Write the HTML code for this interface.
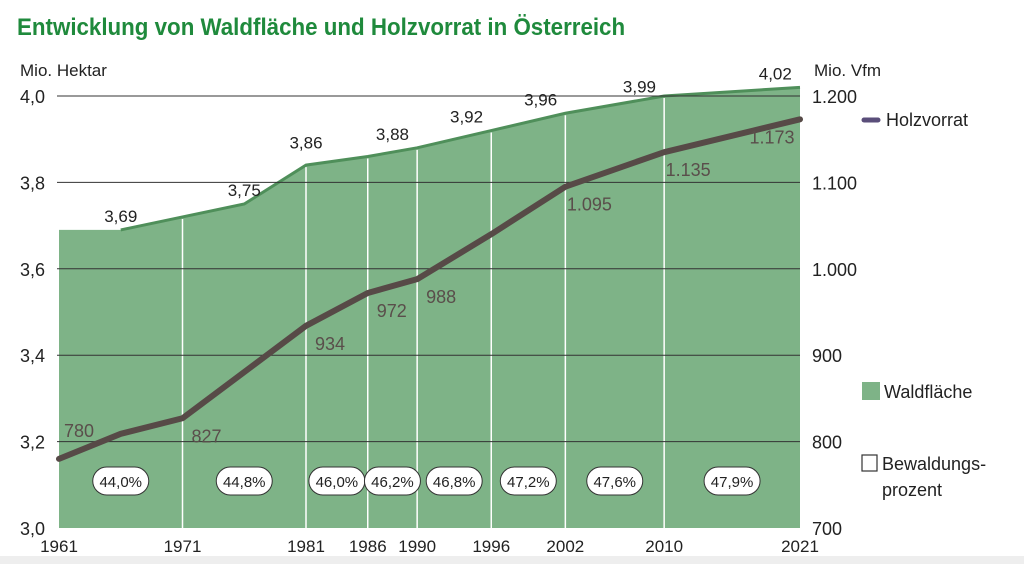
<!DOCTYPE html>
<html><head><meta charset="utf-8">
<style>
html,body{margin:0;padding:0;background:#fff;}
body{width:1024px;height:564px;overflow:hidden;position:relative;font-family:"Liberation Sans",sans-serif;}
#title{position:absolute;left:17px;top:14px;font-size:24px;font-weight:bold;color:#1f8a3c;letter-spacing:0px;transform:scaleX(0.93);transform-origin:left;}
#band{position:absolute;left:0;top:556px;width:1024px;height:8px;background:#eeeeee;}
svg{position:absolute;left:0;top:0;}
text{font-family:"Liberation Sans",sans-serif;}
</style></head>
<body>
<div id="title">Entwicklung von Waldfläche und Holzvorrat in Österreich</div>
<div id="band"></div>
<svg id="chart" width="1024" height="564"></svg>
<script>
const areaYears = [1961, 1966, 1971, 1976, 1981, 1986, 1990, 1996, 2002, 2010, 2021];
const areaValues = [3.69, 3.69, 3.72, 3.75, 3.84, 3.86, 3.88, 3.92, 3.96, 4.00, 4.02];
const areaLabels = [[1966, 3.69, "3,69"], [1976, 3.75, "3,75"], [1981, 3.86, "3,86"], [1988, 3.88, "3,88"], [1994, 3.92, "3,92"], [2000, 3.96, "3,96"], [2008, 3.99, "3,99"], [2019, 4.02, "4,02"]];
const stockYears = [1961, 1966, 1971, 1981, 1986, 1990, 1996, 2002, 2010, 2021];
const stockValues = [780, 809, 827, 934, 972, 988, 1040, 1095, 1135, 1173];
const stockLabels = [[1961, 780, "780"], [1971, 827, "827"], [1981, 934, "934"], [1986, 972, "972"], [1990, 988, "988"], [2002, 1095, "1.095"], [2010, 1135, "1.135"], [2021, 1173, "1.173"]];
const tickYears = [1961, 1971, 1981, 1986, 1990, 1996, 2002, 2010, 2021];
const percentLabels = ["44,0%", "44,8%", "46,0%", "46,2%", "46,8%", "47,2%", "47,6%", "47,9%"];
const leftTicks = [3.0, 3.2, 3.4, 3.6, 3.8, 4.0];
const rightTicks = [700, 800, 900, 1000, 1100, 1200];

const X0 = 59, X1 = 800, Y0 = 528, Y1 = 96;
const x = yr => X0 + (yr - 1961) / (2021 - 1961) * (X1 - X0);
const yL = v => Y0 - (v - 3.0) / 1.0 * (Y0 - Y1);
const yR = v => Y0 - (v - 700) / 500 * (Y0 - Y1);
const svg = document.getElementById('chart');
const NS = 'http://www.w3.org/2000/svg';
function mk(tag, attrs, txt) {
  const e = document.createElementNS(NS, tag);
  for (const k in attrs) e.setAttribute(k, attrs[k]);
  if (txt !== undefined) e.textContent = txt;
  svg.appendChild(e);
  return e;
}
const fmt = v => v.toFixed(1).replace('.', ',');

// area
let d = 'M' + x(areaYears[0]) + ',' + Y0;
areaYears.forEach((yr, i) => { d += ' L' + x(yr) + ',' + yL(areaValues[i]); });
d += ' L' + x(areaYears[areaYears.length - 1]) + ',' + Y0 + ' Z';
let a = mk('path', {d: d, fill: '#7eb387'});


let od = '';
areaYears.forEach((yr, i) => { if (i > 0) od += (i === 1 ? 'M' : ' L') + x(yr) + ',' + yL(areaValues[i]); });
let ol = mk('path', {d: od, fill: 'none', stroke: '#4f8f5a', 'stroke-width': 3});



// white vertical lines
tickYears.slice(1, -1).forEach(yr => {
  const vi = areaYears.indexOf(yr);
  const top = yL(vi >= 0 ? areaValues[vi] : 3.8) + 2;
  const l = mk('line', {x1: x(yr), x2: x(yr), y1: top, y2: Y0, stroke: '#ffffff', 'stroke-width': 1.5});
  
  
});

// grid lines
leftTicks.slice(1).forEach(v => {
  const g = mk('line', {x1: X0 - 2, x2: X1, y1: yL(v), y2: yL(v), stroke: '#333', 'stroke-width': 1});
  
  
});

// left ticks
leftTicks.forEach(v => {
  const t = mk('text', {x: 20, y: yL(v) + 7, 'font-size': 18, fill: '#222'}, fmt(v));
  
  
});
rightTicks.forEach(v => {
  const t = mk('text', {x: 812, y: yR(v) + 7, 'font-size': 18, fill: '#222'}, v >= 1000 ? (v / 1000).toFixed(3) : String(v));
  
  
});
let t1 = mk('text', {x: 20, y: 76, 'font-size': 17, fill: '#222'}, 'Mio. Hektar');


let t2 = mk('text', {x: 814, y: 76, 'font-size': 17, fill: '#222'}, 'Mio. Vfm');



// x ticks
tickYears.forEach(yr => {
  const t = mk('text', {x: x(yr), y: 552, 'font-size': 17, fill: '#222', 'text-anchor': 'middle'}, String(yr));
  
  
});

// area labels
areaLabels.forEach(l => {
  const t = mk('text', {x: x(l[0]), y: yL(l[1]) - 8, 'font-size': 17, fill: '#222', 'text-anchor': 'middle'}, l[2]);
  
  
});

// stock line
let sd = '';
stockYears.forEach((yr, i) => { sd += (i ? ' L' : 'M') + x(yr) + ',' + yR(stockValues[i]); });
let sl = mk('path', {d: sd, fill: 'none', stroke: '#574a47', 'stroke-width': 6, 'stroke-linejoin': 'round', 'stroke-linecap': 'round'});


stockLabels.forEach((l, i) => {
  const xx = i === 0 ? x(l[0]) + 20 : (i === stockLabels.length - 1 ? x(l[0]) - 28 : x(l[0]) + 24);
  const yy = i === 0 ? yR(l[1]) - 22 : yR(l[1]) + 24;
  const t = mk('text', {x: xx, y: yy, 'font-size': 18, fill: '#5a4e4b', 'text-anchor': 'middle'}, l[2]);
  
  
});

// percent pills
percentLabels.forEach((p, i) => {
  const cx = (x(tickYears[i]) + x(tickYears[i + 1])) / 2;
  const r = mk('rect', {x: cx - 28, y: 467, width: 56, height: 28, rx: 14, fill: '#fff', stroke: '#333', 'stroke-width': 1});
  
  
  const t = mk('text', {x: cx, y: 487, 'font-size': 15, fill: '#222', 'text-anchor': 'middle'}, p);
  
  
});

// legend
let lg1 = mk('line', {x1: 864, x2: 878, y1: 120, y2: 120, stroke: '#5a4e7a', 'stroke-width': 5, 'stroke-linecap': 'round'});


let lt1 = mk('text', {x: 886, y: 126, 'font-size': 18, fill: '#222'}, 'Holzvorrat');


let lg2 = mk('rect', {x: 862, y: 382, width: 18, height: 18, fill: '#7eb387'});


let lt2 = mk('text', {x: 884, y: 398, 'font-size': 18, fill: '#222'}, 'Waldfläche');


let lg3 = mk('rect', {x: 862, y: 455, width: 15, height: 16, fill: '#fff', stroke: '#333', 'stroke-width': 1.2});


let lt3 = mk('text', {x: 882, y: 470, 'font-size': 18, fill: '#222'}, 'Bewaldungs-');


let lt4 = mk('text', {x: 882, y: 496, 'font-size': 18, fill: '#222'}, 'prozent');


</script>
</body></html>
